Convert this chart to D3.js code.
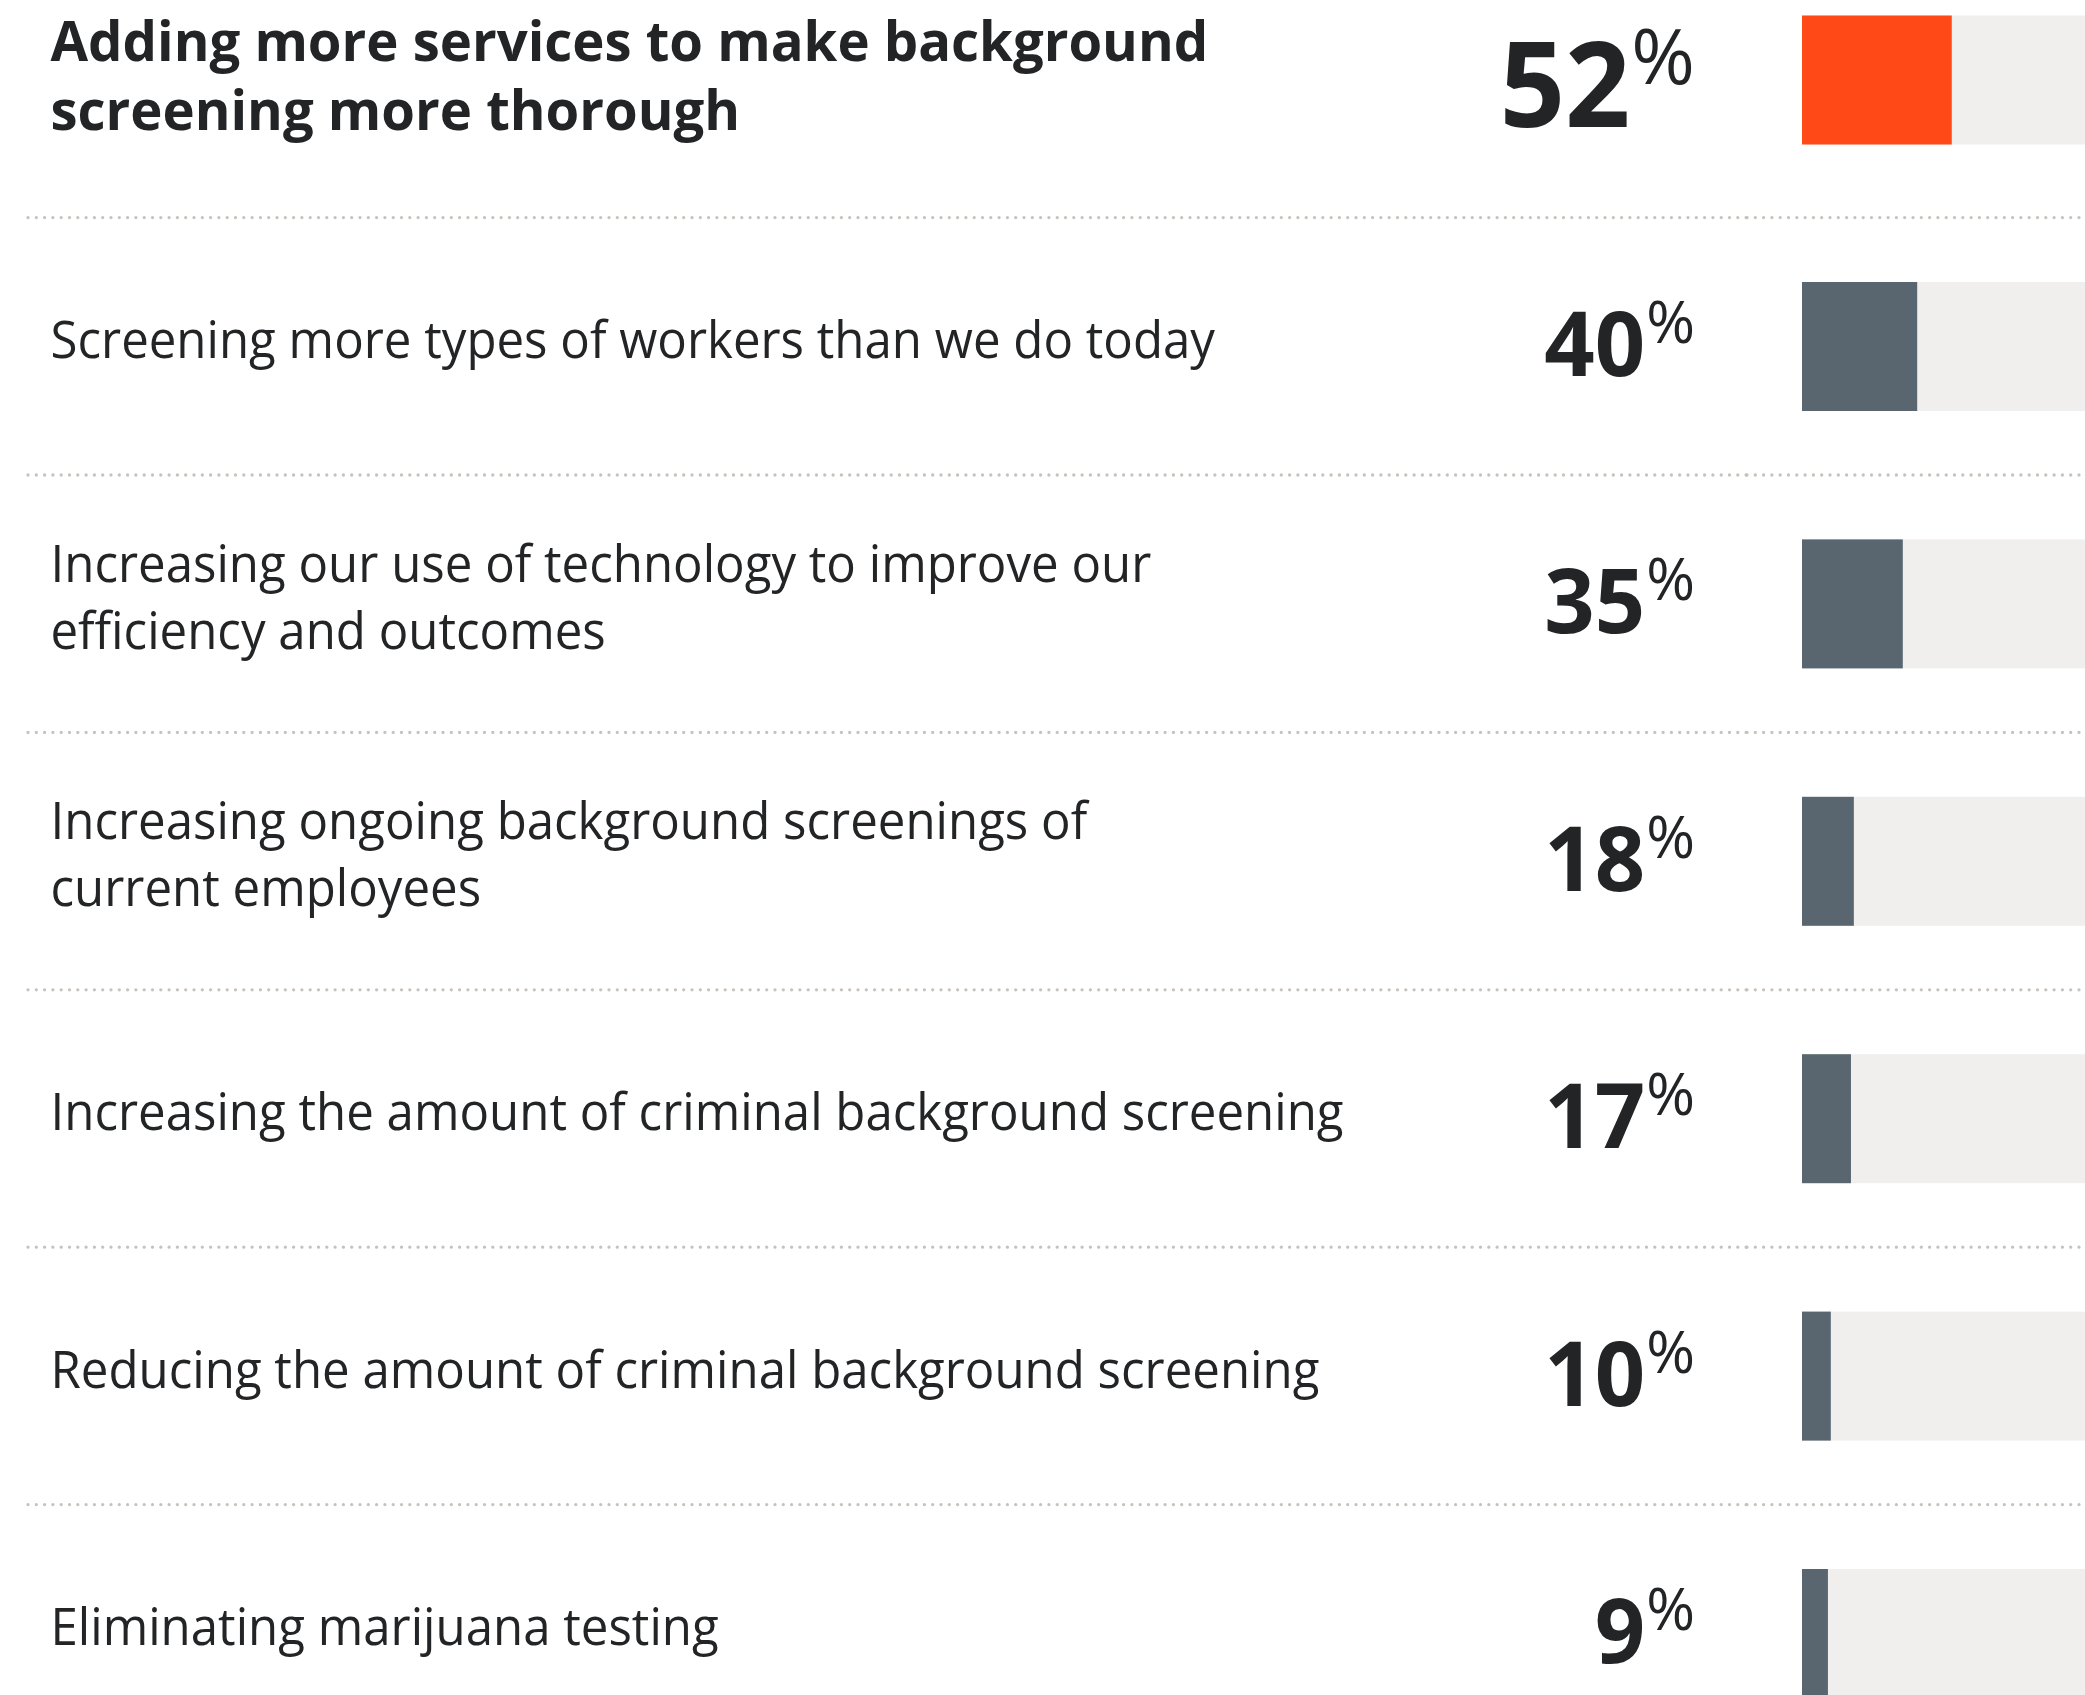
<!DOCTYPE html>
<html>
<head>
<meta charset="utf-8">
<script src="https://cdn.jsdelivr.net/npm/d3@7"></script>
<style>
  html, body { margin: 0; padding: 0; background: #ffffff; overflow: hidden; }
  svg { display: block; }
</style>
</head>
<body>
<svg id="chart" width="2085" height="1695"></svg>
<script>
// ---- data ----
const categories = [
  "Adding more services to make background screening more thorough",
  "Screening more types of workers than we do today",
  "Increasing our use of technology to improve our efficiency and outcomes",
  "Increasing ongoing background screenings of current employees",
  "Increasing the amount of criminal background screening",
  "Reducing the amount of criminal background screening",
  "Eliminating marijuana testing"
];
const labelLines = [
  ["Adding more services to make background", "screening more thorough"],
  ["Screening more types of workers than we do today"],
  ["Increasing our use of technology to improve our", "efficiency and outcomes"],
  ["Increasing ongoing background screenings of", "current employees"],
  ["Increasing the amount of criminal background screening"],
  ["Reducing the amount of criminal background screening"],
  ["Eliminating marijuana testing"]
];
const values = [52, 40, 35, 18, 17, 10, 9];
const highlightIndex = 0;

// ---- layout ----
const W = 2085, H = 1695;
const svg = d3.select("#chart");
const textColor = "#222426";
const barColor = "#596670";
const hiColor = "#FF4A17";
const trackColor = "#F0EFED";
const dotColor = "#C8C2BC";

const idx = d3.range(values.length);
const yCenter = d3.scalePoint().domain(idx).range([89.1, 89.1 + 6 * 257.4]);
const center = i => yCenter(i) + (i === highlightIndex ? -9.1 : 0);
const x = d3.scaleLinear().domain([0, 100]).range([1802, 2090]);
const barH = 129;

// dotted separators (between rows)
const sepY = idx.slice(1).map(i => yCenter(i) - 128.9);
const segs = [[28, 1747], [1747, 2092]];
sepY.forEach(y => {
  segs.forEach(([a, b]) => {
    svg.append("line")
      .attr("x1", a).attr("x2", b).attr("y1", y).attr("y2", y)
      .attr("stroke", dotColor).attr("stroke-width", 3.3)
      .attr("stroke-linecap", "round")
      .attr("stroke-dasharray", "0 8.3");
  });
});

// tracks
svg.selectAll("rect.track").data(idx).join("rect")
  .attr("class", "track")
  .attr("x", x(0)).attr("width", x(100) - x(0))
  .attr("y", i => center(i) - barH / 2).attr("height", barH)
  .attr("fill", trackColor);

// bars
svg.selectAll("rect.bar").data(idx).join("rect")
  .attr("class", "bar")
  .attr("x", x(0)).attr("width", i => x(values[i]) - x(0))
  .attr("y", i => center(i) - barH / 2).attr("height", barH)
  .attr("fill", i => i === highlightIndex ? hiColor : barColor);

// labels
idx.forEach(i => {
  const hi = i === highlightIndex;
  const lines = labelLines[i];
  const fs = hi ? 56 : 52;
  const lh = hi ? 69 : 67.4;
  const off = hi ? 15.5 : 11.5;
  const sx = hi ? 0.973 : 0.946;
  const g = svg.append("g").attr("transform", `translate(50.5,0) scale(${sx},1)`);
  lines.forEach((t, j) => {
    g.append("text")
      .attr("x", 0)
      .attr("y", center(i) + off + (j - (lines.length - 1) / 2) * lh)
      .attr("font-family", "'Open Sans', sans-serif")
      .attr("font-weight", hi ? 700 : 400)
      .attr("font-size", fs)
      .attr("fill", textColor)
      .text(t);
  });
});

// values
idx.forEach(i => {
  const hi = i === highlightIndex;
  const pctSize = hi ? 77 : 59;
  const numSize = hi ? 119 : 90;
  const base = center(i) + (hi ? 46.7 : 29.5);
  const pctBase = base - (hi ? 42.7 : 33);
  const pct = svg.append("text")
    .attr("x", 1695).attr("y", pctBase)
    .attr("text-anchor", "end")
    .attr("font-family", "'Open Sans', sans-serif")
    .attr("font-weight", 400)
    .attr("font-size", pctSize)
    .attr("fill", textColor)
    .text("%");
  const pw = pct.node().getComputedTextLength();
  const numX = 1695 - pw - 1;
  svg.append("text")
    .attr("transform", `translate(${numX},${base}) scale(${hi ? 0.96 : 0.98},1)`)
    .attr("text-anchor", "end")
    .attr("font-family", "'Open Sans', sans-serif")
    .attr("font-weight", 700)
    .attr("font-size", numSize)
    .attr("fill", textColor)
    .text(values[i]);
});
</script>
</body>
</html>
